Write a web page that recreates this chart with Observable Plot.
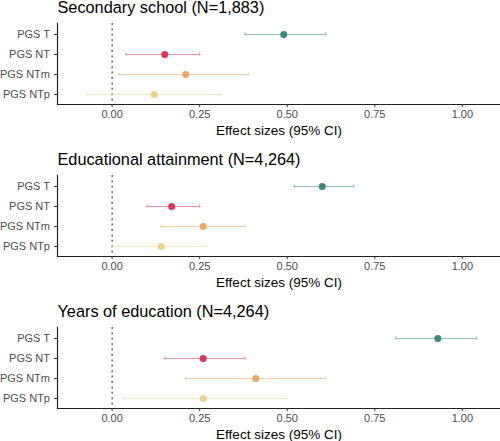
<!DOCTYPE html>
<html>
<head>
<meta charset="utf-8">
<script src="https://cdn.jsdelivr.net/npm/d3@7"></script>
<script src="https://cdn.jsdelivr.net/npm/@observablehq/plot@0.6"></script>
<style>
  html, body { margin: 0; padding: 0; background: #fff; overflow: hidden; }
  #chart svg { display: block; }
  #chart > :first-child { margin-top: -7px; }
</style>
</head>
<body>
<div id="chart"></div>
<script>
const outcomes = ["Secondary school (N=1,883)", "Educational attainment (N=4,264)", "Years of education (N=4,264)"];
const predictors = ["PGS T", "PGS NT", "PGS NTm", "PGS NTp"];
const estimates = [
  [0.49, 0.15, 0.21, 0.12],
  [0.60, 0.17, 0.26, 0.14],
  [0.93, 0.26, 0.41, 0.26]
];
const lower = [
  [0.38, 0.04, 0.02, -0.07],
  [0.52, 0.10, 0.14, 0.00],
  [0.81, 0.15, 0.21, 0.03]
];
const upper = [
  [0.61, 0.25, 0.39, 0.31],
  [0.69, 0.25, 0.38, 0.27],
  [1.04, 0.38, 0.61, 0.50]
];
const xTicks = [0, 0.25, 0.5, 0.75, 1];
const colors = ["#3b8a7e", "#d9365a", "#e9a665", "#ecd08e"];
const xLabel = "Effect sizes (95% CI)";

const chart = document.getElementById("chart");
outcomes.forEach((title, i) => {
  const rows = predictors.map((p, j) => ({p, est: estimates[i][j], lo: lower[i][j], hi: upper[i][j]}));
  const errStyle = {y: "p", stroke: "p", strokeOpacity: 0.55, strokeWidth: 1.1};
  const svg = Plot.plot({
    width: 500, height: 152,
    marginLeft: 57, marginRight: 0, marginTop: 30, marginBottom: 41,
    x: {domain: [-0.156, 1.109]},
    y: {type: "band", domain: predictors, padding: 0},
    color: {domain: predictors, range: colors},
    style: {fontFamily: "'Liberation Sans', Arial, sans-serif", background: "white"},
    marks: [
      Plot.ruleX([0], {stroke: "#444", strokeDasharray: "2,3.4", strokeWidth: 1.2}),
      Plot.ruleY(rows, {...errStyle, x1: "lo", x2: "hi"}),
      Plot.tickX(rows, {...errStyle, x: "lo", insetTop: 8.6, insetBottom: 8.6}),
      Plot.tickX(rows, {...errStyle, x: "hi", insetTop: 8.6, insetBottom: 8.6}),
      Plot.dot(rows, {y: "p", x: "est", fill: "p", r: 3.5}),
      Plot.frame({anchor: "left", stroke: "#222", strokeWidth: 1.2}),
      Plot.frame({anchor: "bottom", stroke: "#222", strokeWidth: 1.2}),
      Plot.axisX({ticks: xTicks, tickFormat: d3.format(".2f"), tickSize: 3, tickPadding: 3, fontSize: 11, stroke: "#333", fill: "#4d4d4d", label: null}),
      Plot.axisY({tickSize: 3, tickPadding: 4.5, fontSize: 11, stroke: "#333", fill: "#4d4d4d", label: null}),
      Plot.text([title], {frameAnchor: "top-left", dy: -16, textAnchor: "start", lineAnchor: "middle", fontSize: 16.3, fill: "#000"}),
      Plot.text([xLabel], {frameAnchor: "bottom", dy: 26.5, lineAnchor: "middle", fontSize: 13.5, fill: "#000"})
    ]
  });
  chart.appendChild(svg);
});
</script>
</body>
</html>
